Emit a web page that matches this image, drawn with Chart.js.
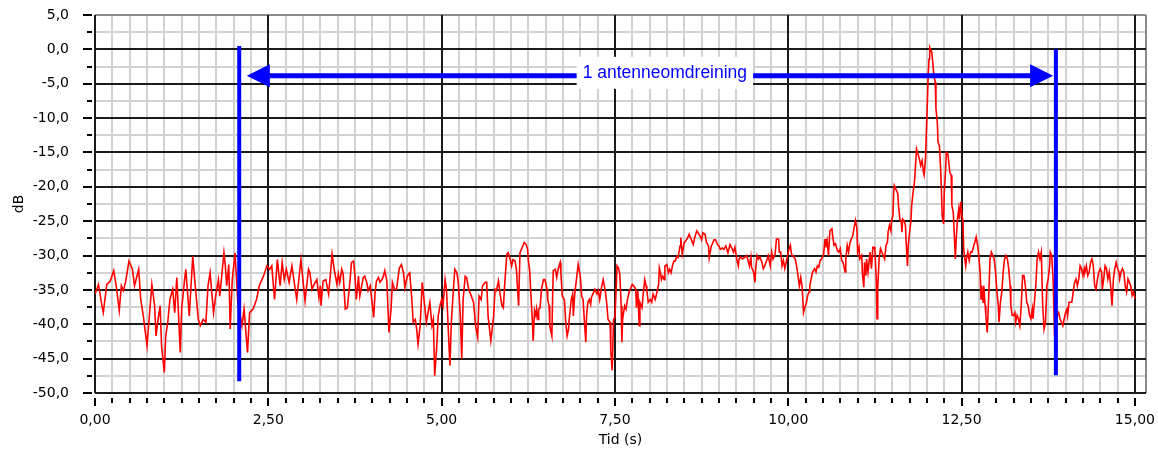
<!DOCTYPE html>
<html>
<head>
<meta charset="utf-8">
<script src="https://cdn.jsdelivr.net/npm/chart.js@4/dist/chart.umd.min.js"></script>
<style>
  html, body { margin: 0; padding: 0; background: #fff; }
  #wrap { width: 1158px; height: 457px; }
</style>
</head>
<body>
<div id="wrap"><canvas id="chart" width="1158" height="457"></canvas></div>
<script>
// time axis (s)
const tid = [
  0.00,0.05,0.10,0.12,0.17,0.22,0.27,0.31,0.35,0.38,
  0.41,0.44,0.49,0.54,0.57,0.63,0.66,0.70,0.72,0.75,
  0.78,0.82,0.86,0.88,0.91,0.94,0.96,1.00,1.02,1.05,
  1.08,1.12,1.15,1.18,1.23,1.25,1.29,1.31,1.36,1.41,
  1.44,1.49,1.52,1.56,1.60,1.63,1.66,1.71,1.74,1.78,
  1.80,1.86,1.88,1.90,1.93,1.95,1.98,2.02,2.06,2.12,
  2.15,2.20,2.23,2.28,2.33,2.37,2.43,2.48,2.52,2.55,
  2.59,2.63,2.67,2.70,2.73,2.76,2.80,2.84,2.91,2.97,
  3.03,
  3.08,3.10,3.13,3.16,3.20,3.23,3.25,3.26,3.29,3.33,
  3.37,3.40,3.42,3.45,3.49,3.51,3.53,3.56,3.58,3.61,
  3.64,3.68,3.70,3.73,3.75,3.77,3.80,3.82,3.85,3.87,
  3.89,3.92,3.94,3.97,4.02,4.04,4.06,4.09,4.11,4.14,
  4.16,4.18,4.21,4.24,4.27,4.29,4.32,4.35,4.39,4.42,
  4.45,4.47,4.50,4.52,4.54,4.57,4.59,4.62,4.64,4.66,
  4.69,4.72,4.75,4.78,4.83,4.86,4.88,4.90,4.93,4.95,
  4.98,5.00,5.02,5.05,5.07,5.10,5.12,5.14,5.17,5.19,
  5.22,5.24,5.27,5.29,5.31,5.34,5.36,5.39,5.41,5.46,
  5.49,5.52,5.54,5.57,5.59,5.63,5.65,5.67,5.71,5.75,
  5.77,5.79,5.82,5.84,5.87,5.89,5.91,5.94,5.96,5.99,
  6.01,6.03,6.06,6.08,6.11,
  6.13,6.15,6.18,6.19,6.22,6.24,6.25,6.27,6.29,6.31,
  6.32,6.34,6.36,6.37,6.39,6.40,6.42,6.44,6.47,6.49,
  6.52,6.53,6.55,6.56,6.59,6.60,6.61,6.64,6.66,6.68,
  6.71,6.72,6.74,6.77,6.79,6.81,6.83,6.84,6.87,6.89,
  6.90,6.92,6.95,6.97,7.00,7.02,7.04,7.06,7.08,7.09,
  7.11,7.13,7.15,7.16,7.19,7.21,7.24,7.26,7.28,7.31,
  7.33,7.36,7.38,7.40,7.43,7.44,7.46,7.48,7.50,7.52,
  7.53,7.55,7.57,7.59,7.60,7.61,7.64,7.66,7.68,7.71,
  7.73,7.75,7.77,7.80,7.81,7.83,7.85,7.86,7.89,7.91,
  7.93,7.95,7.96,7.98,8.01,8.03,8.05,8.08,8.10,8.13,
  8.14,8.16,8.17,8.19,8.21,8.22,8.25,8.27,8.29,8.31,
  8.33,8.35,8.37,8.39,8.41,8.44,8.45,8.47,8.50,8.52,
  8.55,8.57,8.59,8.61,8.63,8.65,8.68,8.70,8.73,8.75,
  8.77,8.80,8.82,8.85,8.86,8.89,8.90,8.93,8.95,8.98,
  9.00,9.02,9.05,9.07,9.10,9.13,9.16,
  9.18,9.21,9.23,9.26,9.28,9.29,9.31,9.34,9.38,9.40,
  9.42,9.44,9.46,9.47,9.50,9.52,9.53,9.55,9.57,9.59,
  9.62,9.64,9.66,9.69,9.71,9.74,9.76,9.78,9.81,9.83,
  9.86,9.87,9.89,9.91,9.93,9.95,9.98,10.00,10.02,10.03,
  10.05,10.07,10.10,10.12,10.14,10.16,10.18,10.20,10.22,10.24,
  10.26,10.28,10.30,10.31,10.33,10.35,10.38,10.40,10.42,10.44,
  10.46,10.48,10.51,10.53,10.54,10.56,10.58,10.60,10.63,10.64,
  10.66,10.68,10.71,10.73,10.75,10.77,10.79,10.82,10.83,10.85,
  10.87,10.89,10.91,10.93,10.95,10.97,10.99,11.00,11.02,11.03,
  11.06,11.07,11.09,11.10,11.12,11.13,11.15,11.16,11.18,11.20,
  11.22,11.24,11.25,11.27,11.28,11.29,11.31,11.33,11.35,11.37,
  11.39,11.41,11.43,11.44,11.46,11.48,11.49,11.51,11.52,11.53,
  11.55,11.58,11.59,11.61,11.63,11.64,11.65,11.67,11.69,11.70,
  11.72,11.73,11.75,11.77,11.78,11.80,11.82,11.83,11.85,11.87,
  11.89,11.91,11.93,11.95,11.96,11.98,12.00,12.01,12.02,12.03,
  12.04,
  12.07,12.08,12.10,12.12,12.13,12.15,12.16,12.18,12.20,12.21,
  12.22,12.24,12.25,12.27,12.28,12.30,12.31,12.33,12.35,12.36,
  12.38,12.40,12.41,12.42,12.44,12.46,12.47,12.49,12.50,12.52,
  12.53,12.54,12.56,12.57,12.59,12.61,12.63,12.65,12.67,12.69,
  12.71,12.73,12.75,12.77,12.78,12.79,12.81,12.82,12.84,12.85,
  12.87,12.89,12.91,12.93,12.95,12.97,12.99,13.01,13.03,13.04,
  13.06,13.08,13.10,13.12,13.14,13.16,13.18,13.20,13.21,13.23,
  13.25,13.27,13.28,13.30,13.32,13.34,13.36,13.38,13.40,13.42,
  13.44,13.46,13.48,13.50,13.52,13.53,13.55,13.57,13.59,13.61,
  13.63,13.65,13.67,13.69,13.71,13.73,13.75,13.77,13.78,13.80,
  13.82,13.84,13.86,13.88,13.90,13.92,13.94,13.96,13.98,14.00,
  14.02,14.03,14.05,14.07,14.09,14.11,14.13,14.15,14.17,14.19,
  14.21,14.23,14.25,14.27,14.28,14.30,14.32,14.34,14.36,14.38,
  14.40,14.42,14.44,14.46,14.48,14.50,14.52,14.53,14.55,14.57,
  14.59,14.61,14.63,14.65,14.67,14.69,14.71,14.73,14.75,14.77,
  14.78,14.80,14.82,14.84,14.86,14.88,14.90,14.92,14.94,14.96,
  14.98,15.00
];

// level (dB), same order as tid
const dB = [
  -35.6,-34.2,-37.3,-38.3,-34.2,-33.7,-32.2,-34.7,-38.0,-34.4,
  -35.1,-33.9,-30.8,-32.0,-34.4,-32.0,-36.4,-39.0,-40.7,-43.1,
  -39.3,-34.2,-37.3,-41.7,-39.3,-37.3,-43.1,-47.0,-41.7,-39.7,
  -36.4,-34.9,-38.3,-33.2,-44.1,-37.8,-33.7,-32.0,-38.8,-30.1,
  -33.7,-39.3,-40.2,-39.3,-39.7,-34.4,-32.5,-38.3,-35.9,-33.5,
  -35.9,-29.6,-31.5,-34.4,-31.3,-40.7,-33.5,-29.6,-36.8,-40.2,
  -37.8,-44.1,-38.3,-37.8,-36.4,-34.4,-33.0,-31.5,-32.0,-31.5,
  -36.4,-30.6,-34.4,-31.0,-33.5,-32.0,-33.9,-31.5,-36.4,-30.6,
  -36.6,
  -32.0,-32.5,-34.9,-34.2,-33.5,-36.1,-34.4,-37.3,-33.7,-33.5,
  -35.6,-32.2,-29.8,-32.0,-34.2,-32.7,-33.9,-32.0,-32.7,-37.8,
  -37.6,-33.5,-31.0,-30.8,-33.0,-36.4,-33.0,-35.9,-34.2,-33.2,
  -33.0,-33.9,-35.1,-34.4,-39.0,-35.4,-33.7,-33.2,-33.9,-33.5,
  -33.0,-32.2,-33.7,-41.2,-37.8,-33.9,-34.9,-34.9,-31.8,-31.3,
  -32.5,-34.7,-33.2,-32.7,-32.5,-36.4,-39.7,-39.3,-40.7,-42.9,
  -40.2,-33.9,-36.8,-39.7,-36.8,-40.2,-39.3,-47.5,-43.1,-38.8,
  -37.1,-36.4,-37.3,-33.5,-34.9,-41.7,-46.0,-39.7,-34.9,-32.0,
  -32.5,-33.9,-38.8,-45.0,-36.4,-33.0,-33.2,-34.9,-35.4,-36.8,
  -40.2,-41.9,-35.9,-36.4,-34.4,-33.9,-33.9,-38.8,-42.4,-38.8,
  -34.9,-35.1,-33.7,-35.4,-37.3,-37.6,-34.2,-29.8,-29.6,-30.6,
  -31.5,-30.6,-30.8,-32.2,-37.3,
  -29.6,-29.1,-28.4,-28.1,-28.4,-29.1,-30.6,-32.2,-36.1,-39.7,
  -42.4,-38.0,-38.8,-37.8,-39.3,-37.8,-37.6,-34.9,-33.5,-33.5,
  -34.9,-36.4,-37.3,-40.2,-41.7,-36.4,-32.2,-32.0,-33.2,-32.0,
  -31.0,-32.5,-35.9,-36.4,-39.7,-41.7,-40.7,-39.3,-36.4,-35.6,
  -38.8,-35.6,-33.0,-31.3,-33.0,-35.9,-36.4,-39.7,-42.6,-38.8,
  -36.8,-36.4,-37.1,-36.1,-35.4,-34.9,-35.6,-35.1,-36.4,-34.4,
  -33.5,-35.1,-36.8,-39.3,-39.7,-43.8,-46.7,-39.3,-39.0,-34.2,
  -31.5,-31.8,-32.7,-37.3,-42.6,-39.3,-37.3,-37.8,-36.4,-35.1,
  -34.7,-34.2,-34.4,-34.9,-37.6,-35.1,-40.2,-36.8,-37.6,-35.4,
  -33.5,-34.4,-35.1,-36.8,-36.4,-36.8,-35.6,-36.4,-35.6,-34.2,
  -31.8,-32.7,-33.5,-33.0,-33.5,-31.5,-31.3,-32.5,-32.0,-32.5,
  -31.5,-30.8,-30.8,-30.1,-30.3,-28.6,-27.4,-29.8,-28.1,-27.9,
  -27.4,-26.9,-27.4,-27.9,-28.4,-27.4,-26.4,-26.7,-27.2,-27.7,
  -26.7,-26.9,-28.1,-28.6,-30.3,-28.6,-28.4,-27.7,-27.7,-28.4,
  -28.6,-29.1,-28.9,-29.1,-28.6,-29.6,-28.4,
  -28.8,-29.5,-28.8,-30.7,-31.5,-30.5,-30.2,-30.5,-30.2,-30.0,
  -30.7,-31.5,-30.2,-31.7,-32.4,-33.9,-31.9,-30.0,-30.5,-30.2,
  -31.0,-31.9,-31.5,-30.7,-30.0,-31.5,-29.5,-30.5,-29.8,-27.6,
  -27.6,-29.5,-29.5,-31.5,-30.7,-31.9,-30.5,-29.5,-28.8,-28.5,
  -30.0,-30.0,-30.5,-31.5,-32.9,-34.4,-33.2,-34.6,-38.3,-37.5,
  -37.0,-35.8,-35.3,-34.4,-33.4,-32.4,-31.9,-32.4,-31.5,-31.7,
  -30.7,-30.5,-29.8,-27.6,-28.8,-27.8,-30.0,-26.4,-26.1,-27.1,
  -28.5,-28.3,-29.3,-29.5,-29.0,-30.7,-31.0,-32.4,-30.5,-28.5,
  -29.5,-28.1,-27.6,-27.1,-25.9,-24.9,-26.1,-29.5,-28.8,-30.5,
  -30.0,-32.7,-34.6,-31.0,-32.9,-30.5,-32.4,-31.5,-29.5,-31.9,
  -28.8,-28.8,-29.3,-33.4,-39.2,-34.9,-30.5,-29.0,-29.5,-30.0,
  -30.5,-28.5,-28.1,-26.6,-25.6,-26.4,-24.9,-24.2,-20.8,-19.8,
  -20.3,-21.0,-22.7,-24.7,-25.1,-26.6,-24.7,-24.9,-25.6,-28.1,
  -31.5,-28.5,-26.6,-24.9,-22.7,-20.8,-19.3,-17.9,-14.5,-15.2,
  -15.9,-16.9,-16.2,-17.9,-18.3,-15.7,-9.6,-6.5,-3.3,-1.4,
  0.3,
  -0.4,-1.4,-3.8,-4.8,-8.6,-10.6,-13.5,-14.0,-17.9,-20.8,
  -24.2,-25.4,-20.8,-17.4,-15.0,-15.2,-15.9,-17.9,-18.3,-22.7,
  -23.7,-28.1,-30.5,-28.1,-24.7,-23.2,-24.7,-22.2,-23.7,-25.1,
  -29.0,-30.0,-31.5,-30.5,-29.5,-30.7,-29.5,-29.5,-28.8,-28.1,
  -27.3,-28.5,-30.2,-32.9,-36.3,-34.4,-36.8,-34.4,-37.3,-38.7,
  -41.2,-36.3,-30.5,-29.5,-30.0,-30.5,-32.4,-35.3,-37.3,-39.7,
  -36.8,-35.3,-32.4,-30.5,-30.0,-30.5,-31.9,-34.4,-37.3,-38.7,
  -38.7,-38.3,-39.7,-38.7,-39.2,-40.2,-37.3,-32.9,-32.9,-34.4,
  -36.8,-37.3,-38.7,-39.2,-37.8,-39.2,-36.8,-34.4,-30.5,-29.5,
  -30.5,-29.5,-37.3,-40.7,-39.7,-34.4,-33.4,-31.5,-29.5,-30.0,
  -33.4,-41.2,-40.7,-38.7,-38.3,-39.2,-39.7,-40.2,-39.2,-38.3,
  -37.8,-38.7,-36.8,-36.8,-36.8,-35.3,-33.9,-33.4,-34.4,-33.4,
  -31.5,-31.9,-32.9,-31.9,-32.4,-31.5,-32.9,-32.4,-31.0,-30.5,
  -31.5,-34.4,-34.9,-33.4,-32.4,-31.9,-32.4,-34.9,-33.4,-31.5,
  -31.9,-33.4,-32.4,-34.4,-37.3,-33.4,-31.9,-31.0,-31.9,-32.4,
  -33.4,-32.4,-31.9,-32.4,-34.4,-35.3,-33.4,-33.9,-34.4,-35.8,
  -35.3,-36.3
];

// labelled ticks
const xTicks = [0, 2.5, 5, 7.5, 10, 12.5, 15];
const yTicks = [5, 0, -5, -10, -15, -20, -25, -30, -35, -40, -45, -50];

// marker lines and arrow (data units)
const markerLeft = { t: 2.08, top: 0.5, bottom: -48.3 };
const markerRight = { t: 13.86, top: 0.0, bottom: -47.4 };
const arrowLevel = -3.85;
const arrowFrom = 2.19;
const arrowTo = 13.82;
const arrowLabel = '1 antenneomdreining';
const arrowLabelAt = 8.22;

const X_MAX = 15.16;
const fontFamily = "'DejaVu Sans', sans-serif";

if (tid.length !== dB.length) console.error('length mismatch', tid.length, dB.length);

function komma(v, d) {
  return v.toFixed(d).replace('.', ',');
}

// grid: light every 0.25 s / 2.5 dB, dark every 2.5 s / 5 dB, plus outside tick marks
const gridPlugin = {
  id: 'gridPlugin',
  beforeDatasetsDraw(chart) {
    const { ctx, chartArea: a, scales: { x, y } } = chart;
    ctx.save();
    ctx.lineWidth = 2;

    const vlines = [];
    for (let i = 0; i * 0.25 <= X_MAX; i++) vlines.push(i * 0.25);
    const hlines = [];
    for (let i = 0; i <= 22; i++) hlines.push(-50 + i * 2.5);

    const line = (x1, y1, x2, y2) => {
      ctx.beginPath();
      ctx.moveTo(x1, y1);
      ctx.lineTo(x2, y2);
      ctx.stroke();
    };

    ctx.strokeStyle = '#d2d2d2';
    vlines.forEach(v => { if (v % 2.5 !== 0) { const px = Math.round(x.getPixelForValue(v)); line(px, a.top, px, a.bottom); } });
    hlines.forEach(v => { if (v % 5 !== 0) { const py = Math.round(y.getPixelForValue(v)); line(a.left, py, a.right, py); } });

    // border top / right
    ctx.strokeStyle = '#8c8c8c';
    line(a.left, a.top, a.right, a.top);
    line(a.right, a.top, a.right, a.bottom);

    ctx.strokeStyle = '#1a1a1a';
    vlines.forEach(v => { if (v % 2.5 === 0) { const px = Math.round(x.getPixelForValue(v)); line(px, a.top, px, a.bottom); } });
    hlines.forEach(v => { if (v % 5 === 0 && v < 5) { const py = Math.round(y.getPixelForValue(v)); line(a.left, py, a.right, py); } });

    // tick marks outside the plot
    ctx.strokeStyle = '#000';
    hlines.forEach(v => {
      const py = Math.round(y.getPixelForValue(v));
      const major = v % 5 === 0;
      line(a.left - (major ? 12 : 8), py, a.left - 3, py);
    });
    vlines.forEach(v => {
      if (v > 15.001) return;
      const px = Math.round(x.getPixelForValue(v));
      const major = v % 2.5 === 0;
      line(px, a.bottom + 5, px, a.bottom + (major ? 13 : 10));
    });
    ctx.restore();
  }
};

// blue markers, double arrow and label
const markerPlugin = {
  id: 'markerPlugin',
  afterDatasetsDraw(chart) {
    const { ctx, scales: { x, y } } = chart;
    ctx.save();
    ctx.strokeStyle = '#0000ff';
    ctx.fillStyle = '#0000ff';

    ctx.lineWidth = 4;
    [markerLeft, markerRight].forEach(m => {
      const px = x.getPixelForValue(m.t);
      ctx.beginPath();
      ctx.moveTo(px, y.getPixelForValue(m.top));
      ctx.lineTo(px, y.getPixelForValue(m.bottom));
      ctx.stroke();
    });

    const ay = y.getPixelForValue(arrowLevel);
    const x1 = x.getPixelForValue(arrowFrom);
    const x2 = x.getPixelForValue(arrowTo);
    const headLen = 23, headHalf = 11.5;

    ctx.lineWidth = 5;
    ctx.beginPath();
    ctx.moveTo(x1 + headLen - 2, ay);
    ctx.lineTo(x2 - headLen + 2, ay);
    ctx.stroke();

    ctx.beginPath();
    ctx.moveTo(x1, ay);
    ctx.lineTo(x1 + headLen, ay - headHalf);
    ctx.lineTo(x1 + headLen, ay + headHalf);
    ctx.closePath();
    ctx.fill();

    ctx.beginPath();
    ctx.moveTo(x2, ay);
    ctx.lineTo(x2 - headLen, ay - headHalf);
    ctx.lineTo(x2 - headLen, ay + headHalf);
    ctx.closePath();
    ctx.fill();

    ctx.font = "17.5px 'Liberation Sans', Arial, sans-serif";
    const w = ctx.measureText(arrowLabel).width;
    const cx = x.getPixelForValue(arrowLabelAt);
    ctx.fillStyle = '#ffffff';
    ctx.fillRect(cx - w / 2 - 6, ay - 19, w + 12, 32);
    ctx.fillStyle = '#0000ff';
    ctx.textAlign = 'center';
    ctx.textBaseline = 'middle';
    ctx.fillText(arrowLabel, cx, ay - 3);
    ctx.restore();
  }
};

new Chart(document.getElementById('chart'), {
  type: 'line',
  data: {
    datasets: [{
      data: tid.map((t, i) => ({ x: t, y: dB[i] })),
      borderColor: '#ff0000',
      borderWidth: 1.6,
      pointRadius: 0,
      tension: 0,
      fill: false
    }]
  },
  options: {
    responsive: false,
    animation: false,
    devicePixelRatio: 1,
    layout: { autoPadding: false, padding: { top: 15, right: 12, left: 0, bottom: 0 } },
    plugins: { legend: { display: false }, tooltip: { enabled: false } },
    scales: {
      x: {
        type: 'linear',
        min: 0,
        max: X_MAX,
        grid: { display: false },
        border: { display: false },
        afterBuildTicks: s => { s.ticks = xTicks.map(v => ({ value: v })); },
        afterFit: s => { s.height = 64; s.paddingLeft = 0; s.paddingRight = 0; },
        ticks: {
          autoSkip: false,
          maxRotation: 0,
          padding: 11,
          color: '#000',
          font: { family: fontFamily, size: 14 },
          callback: v => komma(v, 2)
        },
        title: {
          display: true,
          text: 'Tid (s)',
          color: '#000',
          font: { family: fontFamily, size: 14 },
          padding: { top: 0, bottom: 8 }
        }
      },
      y: {
        min: -50,
        max: 5,
        grid: { display: false },
        border: { display: false },
        afterBuildTicks: s => { s.ticks = yTicks.map(v => ({ value: v })); },
        afterFit: s => { s.width = 95; s.paddingTop = 0; s.paddingBottom = 0; },
        ticks: {
          autoSkip: false,
          padding: 18,
          color: '#000',
          font: { family: fontFamily, size: 14 },
          callback: v => komma(v, 1)
        },
        title: {
          display: true,
          text: 'dB',
          color: '#000',
          font: { family: fontFamily, size: 14 },
          padding: { top: 11, bottom: 0 }
        }
      }
    }
  },
  plugins: [gridPlugin, markerPlugin]
});
</script>
</body>
</html>
